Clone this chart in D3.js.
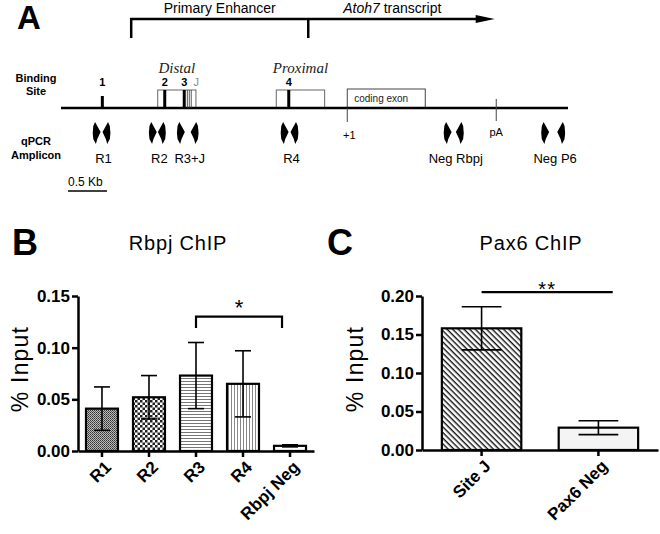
<!DOCTYPE html>
<html>
<head>
<meta charset="utf-8">
<script src="https://cdn.jsdelivr.net/npm/d3@7"></script>
<style>
  html, body { margin: 0; padding: 0; background: #fff; }
  svg { display: block; font-family: "Liberation Sans", Arial, Helvetica, sans-serif; }
</style>
</head>
<body>
<div id="fig"></div>
<script>
// ── Panel A: locus map, positions in kb from the left end of the line ──
var locusKb = [0, 6.5];
var enhancerKb = [0.90, 3.17];
var transcriptKb = [3.17, 5.56];
var tssKb = 3.67;
var pAKb = 5.58;
var exonKb = [3.67, 4.67];
var regionNames = ["Distal", "Proximal"];
var regionStartKb = [1.24, 2.76];
var regionEndKb = [1.73, 3.38];
var siteNames = ["1", "2", "3", "4"];
var siteKb = [0.53, 1.33, 1.58, 2.92];
var siteJKb = [1.62, 1.645, 1.67];
var ampliconNames = ["R1", "R2", "R3+J", "R4", "Neg Rbpj", "Neg P6"];
var ampliconFwdKb = [0.45, 1.17, 1.53, 2.86, 4.95, 6.20];
var ampliconRevKb = [0.59, 1.30, 1.72, 3.00, 5.12, 6.42];
var scaleBarKb = [0.09, 0.59];

// ── Panel B: Rbpj ChIP ──
var rbpjCats = ["R1", "R2", "R3", "R4", "Rbpj Neg"];
var rbpjMean = [0.041, 0.052, 0.073, 0.065, 0.005];
var rbpjErr = [0.021, 0.021, 0.032, 0.032, 0.001];
var rbpjTicks = [0, 0.05, 0.10, 0.15];
var rbpjFills = ["url(#dots)", "url(#checker)", "url(#hlines)", "url(#vlines)", "#fff"];

// ── Panel C: Pax6 ChIP ──
var pax6Cats = ["Site J", "Pax6 Neg"];
var pax6Mean = [0.158, 0.029];
var pax6Err = [0.028, 0.009];
var pax6Ticks = [0, 0.05, 0.10, 0.15, 0.20];
var pax6Fills = ["url(#diag)", "#f4f4f4"];

var W = 660, H = 534;
var svg = d3.select("#fig").append("svg").attr("width", W).attr("height", H);

// ── Fill patterns ─────────────────────────────────────────────────────
var defs = svg.append("defs");
var p = defs.append("pattern").attr("id", "dots").attr("patternUnits", "userSpaceOnUse")
  .attr("width", 2).attr("height", 2);
p.append("rect").attr("width", 2).attr("height", 2).attr("fill", "#bbb");
p.append("rect").attr("width", 1).attr("height", 1).attr("fill", "#333");
p.append("rect").attr("x", 1).attr("y", 1).attr("width", 1).attr("height", 1).attr("fill", "#555");

p = defs.append("pattern").attr("id", "checker").attr("patternUnits", "userSpaceOnUse")
  .attr("width", 5).attr("height", 5);
p.append("rect").attr("width", 5).attr("height", 5).attr("fill", "#fff");
p.append("rect").attr("width", 2.5).attr("height", 2.5).attr("fill", "#222");
p.append("rect").attr("x", 2.5).attr("y", 2.5).attr("width", 2.5).attr("height", 2.5).attr("fill", "#222");

p = defs.append("pattern").attr("id", "hlines").attr("patternUnits", "userSpaceOnUse")
  .attr("width", 3).attr("height", 3);
p.append("rect").attr("width", 3).attr("height", 3).attr("fill", "#fff");
p.append("rect").attr("width", 3).attr("height", 1).attr("fill", "#777");

p = defs.append("pattern").attr("id", "vlines").attr("patternUnits", "userSpaceOnUse")
  .attr("width", 3).attr("height", 3);
p.append("rect").attr("width", 3).attr("height", 3).attr("fill", "#fff");
p.append("rect").attr("width", 1).attr("height", 3).attr("fill", "#888");

p = defs.append("pattern").attr("id", "diag").attr("patternUnits", "userSpaceOnUse")
  .attr("width", 4).attr("height", 4).attr("patternTransform", "rotate(45)");
p.append("rect").attr("width", 4).attr("height", 4).attr("fill", "#fff");
p.append("rect").attr("width", 4).attr("height", 1.4).attr("fill", "#111");

// ── Panel A ───────────────────────────────────────────────────────────
var xA = d3.scaleLinear().domain(locusKb).range([61, 568]);
var gA = svg.append("g");

gA.append("text").attr("x", 17).attr("y", 29)
  .attr("font-size", 33).attr("font-weight", "bold").text("A");

// enhancer bracket + transcript arrow
gA.append("path")
  .attr("d", "M" + xA(enhancerKb[0]) + ",38V19H" + (xA(transcriptKb[1]) - 16))
  .attr("fill", "none").attr("stroke", "#000").attr("stroke-width", 2.5);
gA.append("line").attr("x1", xA(enhancerKb[1])).attr("x2", xA(enhancerKb[1]))
  .attr("y1", 19).attr("y2", 38).attr("stroke", "#000").attr("stroke-width", 2.5);
gA.append("path")
  .attr("d", "M" + (xA(transcriptKb[1]) - 19) + ",15L" + xA(transcriptKb[1]) + ",19L" +
    (xA(transcriptKb[1]) - 19) + ",23Z")
  .attr("fill", "#000");
gA.append("text").attr("x", (xA(enhancerKb[0]) + xA(enhancerKb[1])) / 2).attr("y", 13)
  .attr("text-anchor", "middle").attr("font-size", 14).text("Primary Enhancer");
var tt = gA.append("text").attr("x", xA(transcriptKb[0]) + 35).attr("y", 13).attr("font-size", 14);
tt.append("tspan").attr("font-style", "italic").text("Atoh7");
tt.append("tspan").text(" transcript");

// row labels
[["Binding", 82], ["Site", 95], ["qPCR", 145], ["Amplicon", 159]].forEach(function (r) {
  gA.append("text").attr("x", 36).attr("y", r[1]).attr("text-anchor", "middle")
    .attr("font-size", 11).attr("font-weight", "bold").text(r[0]);
});

var lineY = 108;
// region boxes
regionNames.forEach(function (name, i) {
  gA.append("rect")
    .attr("x", xA(regionStartKb[i])).attr("y", 90)
    .attr("width", xA(regionEndKb[i]) - xA(regionStartKb[i])).attr("height", lineY - 90)
    .attr("fill", "#fff").attr("stroke", "#666").attr("stroke-width", 1);
  gA.append("text")
    .attr("x", (xA(regionStartKb[i]) + xA(regionEndKb[i])) / 2).attr("y", 73)
    .attr("text-anchor", "middle").attr("font-size", 15).attr("font-style", "italic")
    .attr("font-family", "'Liberation Serif', 'DejaVu Serif', serif").attr("fill", "#222")
    .text(name);
});

// coding exon
gA.append("rect").attr("x", xA(exonKb[0])).attr("y", 89)
  .attr("width", xA(exonKb[1]) - xA(exonKb[0])).attr("height", lineY - 89)
  .attr("fill", "#fff").attr("stroke", "#444").attr("stroke-width", 1);
gA.append("text").attr("x", xA(exonKb[0]) + 7).attr("y", 102)
  .attr("font-size", 10).attr("fill", "#222").text("coding exon");

// main line
gA.append("line").attr("x1", xA(locusKb[0])).attr("x2", xA(locusKb[1]))
  .attr("y1", lineY).attr("y2", lineY).attr("stroke", "#000").attr("stroke-width", 2.5);

// +1 and pA ticks
gA.append("line").attr("x1", xA(tssKb)).attr("x2", xA(tssKb)).attr("y1", lineY).attr("y2", 122)
  .attr("stroke", "#444").attr("stroke-width", 1);
gA.append("text").attr("x", xA(tssKb) + 2).attr("y", 139).attr("text-anchor", "middle")
  .attr("font-size", 11).text("+1");
gA.append("line").attr("x1", xA(pAKb)).attr("x2", xA(pAKb)).attr("y1", 99).attr("y2", 121)
  .attr("stroke", "#444").attr("stroke-width", 1);
gA.append("text").attr("x", xA(pAKb)).attr("y", 136).attr("text-anchor", "middle")
  .attr("font-size", 11).text("pA");

// binding sites
siteKb.forEach(function (kb, i) {
  gA.append("line").attr("x1", xA(kb)).attr("x2", xA(kb))
    .attr("y1", i === 0 ? 96 : 90).attr("y2", lineY)
    .attr("stroke", "#000").attr("stroke-width", 3);
  gA.append("text").attr("x", xA(kb)).attr("y", 86).attr("text-anchor", "middle")
    .attr("font-size", 11).attr("font-weight", "bold").text(siteNames[i]);
});
siteJKb.forEach(function (kb) {
  gA.append("line").attr("x1", xA(kb)).attr("x2", xA(kb)).attr("y1", 90).attr("y2", lineY)
    .attr("stroke", "#333").attr("stroke-width", 0.8);
});
gA.append("text").attr("x", xA(siteJKb[2]) + 5).attr("y", 86).attr("text-anchor", "middle")
  .attr("font-size", 11).attr("fill", "#888").text("J");

// primer arrows (s = 1 forward, -1 reverse)
function primer(x, s) {
  var cy = 133;
  return "M" + (x - 1 * s) + "," + (cy - 11) +
    "L" + (x + 1.2 * s) + "," + (cy - 7) +
    "L" + (x + 4.5 * s) + "," + (cy - 1) +
    "L" + (x + 1.2 * s) + "," + (cy + 6) +
    "L" + (x - 0.2 * s) + "," + (cy + 11) +
    "L" + (x - 2.8 * s) + "," + (cy + 6) +
    "L" + (x - 3.4 * s) + "," + cy +
    "L" + (x - 2.8 * s) + "," + (cy - 7) + "Z";
}
ampliconNames.forEach(function (name, i) {
  gA.append("path").attr("d", primer(xA(ampliconFwdKb[i]), 1)).attr("fill", "#000");
  gA.append("path").attr("d", primer(xA(ampliconRevKb[i]), -1)).attr("fill", "#000");
  gA.append("text").attr("x", (xA(ampliconFwdKb[i]) + xA(ampliconRevKb[i])) / 2 + 2)
    .attr("y", 163).attr("text-anchor", "middle").attr("font-size", 13).text(name);
});

// scale bar
gA.append("text").attr("x", xA(scaleBarKb[0])).attr("y", 186).attr("font-size", 12).text("0.5 Kb");
gA.append("line").attr("x1", xA(scaleBarKb[0])).attr("x2", xA(scaleBarKb[1]))
  .attr("y1", 191).attr("y2", 191).attr("stroke", "#000").attr("stroke-width", 1.5);

// ── Bar panels ────────────────────────────────────────────────────────
function barPanel(o) {
  var g = svg.append("g");
  var x = d3.scaleBand().domain(o.cats).range(o.xRange).paddingInner(0.32).paddingOuter(0.17);
  var y = d3.scaleLinear().domain(o.yDomain).range(o.yRange);

  g.append("text").attr("x", o.letterX).attr("y", 255)
    .attr("font-size", 36).attr("font-weight", "bold").text(o.letter);
  g.append("text").attr("x", o.titleX).attr("y", 250).attr("text-anchor", "middle")
    .attr("font-size", 20).attr("letter-spacing", 0.8).text(o.title);
  g.append("text").attr("transform", "translate(" + o.yLabelX + "," + 369 + ") rotate(-90)")
    .attr("text-anchor", "middle").attr("font-size", 23).attr("letter-spacing", 1.2)
    .text("% Input");

  // bars
  g.selectAll("rect.bar").data(o.means).join("rect").attr("class", "bar")
    .attr("x", function (d, i) { return x(o.cats[i]); })
    .attr("y", function (d) { return y(d); })
    .attr("width", x.bandwidth())
    .attr("height", function (d) { return y(0) - y(d); })
    .attr("fill", function (d, i) { return o.fills[i]; })
    .attr("stroke", "#000").attr("stroke-width", 2.2);

  // error bars
  var cap = x.bandwidth() / 4;
  o.means.forEach(function (m, i) {
    var cx = x(o.cats[i]) + x.bandwidth() / 2;
    var eg = g.append("g").attr("stroke", "#000").attr("stroke-width", 1.6);
    eg.append("line").attr("x1", cx).attr("x2", cx)
      .attr("y1", y(m - o.errs[i])).attr("y2", y(m + o.errs[i]));
    eg.append("line").attr("x1", cx - cap).attr("x2", cx + cap)
      .attr("y1", y(m + o.errs[i])).attr("y2", y(m + o.errs[i]));
    eg.append("line").attr("x1", cx - cap).attr("x2", cx + cap)
      .attr("y1", y(m - o.errs[i])).attr("y2", y(m - o.errs[i]));
  });

  // axes
  var ya = g.append("g").attr("transform", "translate(" + o.xRange[0] + ",0)")
    .call(d3.axisLeft(y).tickValues(o.ticks).tickFormat(d3.format(".2f"))
      .tickSize(6).tickSizeOuter(0).tickPadding(2));
  var xa = g.append("g").attr("transform", "translate(0," + o.yRange[0] + ")")
    .call(d3.axisBottom(x).tickSize(6).tickSizeOuter(0).tickFormat(""));
  [ya, xa].forEach(function (a) {
    a.select(".domain").attr("stroke-width", 2.5);
    a.selectAll(".tick line").attr("stroke-width", 2.5);
  });
  ya.selectAll(".tick text").attr("font-size", 17).attr("font-weight", "bold")
    .attr("font-family", "'Liberation Sans', Arial, sans-serif").attr("fill", "#000");

  o.cats.forEach(function (c) {
    var cx = x(c) + x.bandwidth() / 2;
    g.append("text")
      .attr("transform", "translate(" + (cx + 6) + "," + (o.yRange[0] + 13) + ") rotate(-45)")
      .attr("text-anchor", "end").attr("dy", "0.35em")
      .attr("font-size", 17).attr("font-weight", "bold").text(c);
  });

  o.sig(g, x, y);
}

barPanel({
  letter: "B", letterX: 12, title: "Rbpj ChIP", titleX: 178, yLabelX: 28,
  cats: rbpjCats, means: rbpjMean, errs: rbpjErr, fills: rbpjFills, ticks: rbpjTicks,
  xRange: [78, 314], yDomain: [0, 0.15], yRange: [451, 296],
  sig: function (g, x, y) {
    var x1 = x("R3") + x.bandwidth() / 2, x2 = x("Rbpj Neg") + x.bandwidth() / 4;
    g.append("path")
      .attr("d", "M" + x1 + "," + y(0.119) + "V" + y(0.13) + "H" + x2 + "V" + y(0.119))
      .attr("fill", "none").attr("stroke", "#000").attr("stroke-width", 2.2);
    g.append("text").attr("x", (x1 + x2) / 2).attr("y", y(0.13) - 2).attr("text-anchor", "middle")
      .attr("font-size", 22).text("*");
  }
});

barPanel({
  letter: "C", letterX: 327, title: "Pax6 ChIP", titleX: 531, yLabelX: 363,
  cats: pax6Cats, means: pax6Mean, errs: pax6Err, fills: pax6Fills, ticks: pax6Ticks,
  xRange: [422, 658], yDomain: [0, 0.20], yRange: [450, 296],
  sig: function (g, x, y) {
    var x1 = x("Site J") + x.bandwidth() / 2, x2 = x("Pax6 Neg") + x.bandwidth() * 0.68;
    g.append("line").attr("x1", x1).attr("x2", x2).attr("y1", y(0.205)).attr("y2", y(0.205))
      .attr("stroke", "#000").attr("stroke-width", 2.2);
    g.append("text").attr("x", (x1 + x2) / 2).attr("y", y(0.205) + 4).attr("text-anchor", "middle")
      .attr("font-size", 20).attr("letter-spacing", 1).text("**");
  }
});
</script>
</body>
</html>
